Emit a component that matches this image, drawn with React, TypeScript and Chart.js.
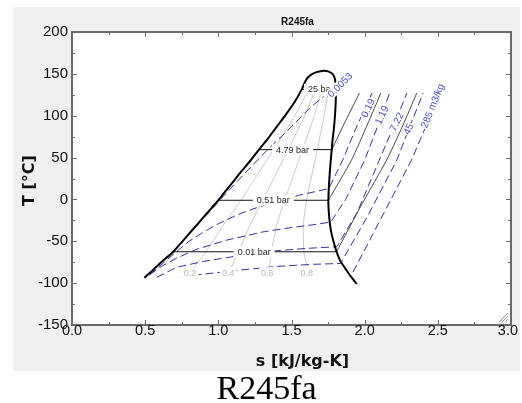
import React, { useEffect, useRef } from "react";
import { Chart, registerables } from "chart.js";

Chart.register(...registerables);

type P = [number, number];

// ---- axes ----
const sTicks = [0, 0.5, 1.0, 1.5, 2.0, 2.5, 3.0];
const sMinorTicks = [0.25, 0.75, 1.25, 1.75, 2.25, 2.75];
const tTicks = [-150, -100, -50, 0, 50, 100, 150, 200];
const tMinorTicks = [-125, -75, -25, 25, 75, 125, 175];

// ---- saturation dome (s [kJ/kg-K], T [°C]) ----
const satDome: P[] = [
  [0.494, -93.5], [0.55, -84.8], [0.61, -75], [0.692, -62.5], [0.755, -50], [0.805, -40],
  [0.855, -30], [0.905, -20], [0.955, -10], [1.005, 0], [1.055, 11], [1.105, 22], [1.16, 34],
  [1.22, 46.5], [1.278, 59.5], [1.34, 73], [1.40, 87], [1.46, 101], [1.52, 116], [1.57, 131.5],
  [1.60, 143], [1.63, 148.5], [1.67, 152], [1.71, 153.5], [1.75, 153], [1.78, 150], [1.796, 144.5],
  [1.803, 135], [1.803, 122], [1.799, 105], [1.79, 85], [1.78, 70], [1.775, 59.5], [1.765, 40],
  [1.757, 20], [1.752, 0], [1.753, -10], [1.757, -20], [1.763, -30], [1.775, -42], [1.79, -52],
  [1.808, -62.5], [1.835, -74], [1.866, -82], [1.905, -92], [1.946, -101],
];

// ---- isobars ----
const isobar25Wet: P[] = [[1.57, 131.5], [1.803, 131.5]];
const isobar479Wet: P[] = [[1.278, 59.5], [1.775, 59.5]];
const isobar051Wet: P[] = [[1.003, -1], [1.752, -1]];
const isobar001Wet: P[] = [[0.692, -62.5], [1.808, -62.5]];
const isobar479Sup: P[] = [[1.775, 59.5], [1.87, 94], [1.964, 127]];
const isobar051Sup: P[] = [[1.752, -1], [1.91, 47], [2.02, 90], [2.11, 127]];
const isobar001Sup: P[] = [[1.808, -62.5], [1.98, -6], [2.15, 47], [2.26, 88], [2.356, 127]];

// ---- quality lines ----
const quality02: P[] = [[0.80, -88], [0.915, -62.5], [1.037, -30], [1.154, -1], [1.269, 30], [1.377, 59.5], [1.523, 100], [1.616, 131.5]];
const quality04: P[] = [[1.07, -88], [1.138, -62.5], [1.218, -30], [1.304, -1], [1.393, 30], [1.477, 59.5], [1.59, 100], [1.662, 131.5]];
const quality06: P[] = [[1.345, -88], [1.362, -62.5], [1.40, -30], [1.453, -1], [1.516, 30], [1.576, 59.5], [1.656, 100], [1.708, 131.5]];
const quality08: P[] = [[1.617, -88], [1.585, -62.5], [1.581, -30], [1.603, -1], [1.64, 30], [1.676, 59.5], [1.723, 100], [1.754, 131.5]];

// ---- isochores (m3/kg) ----
const vol0053: P[] = [[0.50, -92], [0.70, -61], [0.86, -30], [1.015, 0], [1.174, 30], [1.337, 59.5], [1.46, 80], [1.545, 95], [1.63, 110], [1.72, 123]];
const vol019: P[] = [[0.53, -90], [0.73, -60], [0.80, -50], [0.89, -40], [0.99, -30], [1.11, -20], [1.18, -15], [1.26, -10], [1.45, 0], [1.55, 5], [1.68, 10], [1.755, 13], [1.85, 47], [1.94, 85], [2.05, 127]];
const vol119: P[] = [[0.531, -90], [0.611, -80], [0.716, -70], [0.86, -59], [1.06, -48.5], [1.30, -39], [1.48, -34], [1.68, -29.5], [1.768, -27], [1.87, 0], [2.00, 47], [2.09, 88], [2.17, 127]];
const vol722: P[] = [[0.58, -93], [0.716, -81], [0.90, -74], [1.126, -67.6], [1.30, -63], [1.45, -60.5], [1.62, -58.3], [1.81, -56.5], [1.95, -15], [2.10, 47], [2.20, 88], [2.288, 127]];
const vol45: P[] = [[0.75, -93], [0.886, -89.5], [1.148, -84.4], [1.40, -80], [1.649, -77.5], [1.835, -76.5], [2.02, -20], [2.22, 47], [2.31, 88], [2.40, 127]];
const vol285: P[] = [[1.92, -87], [2.09, -30], [2.32, 47], [2.42, 88], [2.516, 127]];

// ---- labels ----
const pressureLabels = ["25 bar", "4.79 bar", "0.51 bar", "0.01 bar"];
const pressureLabelAt: P[] = [[1.70, 131.5], [1.507, 59.5], [1.376, -1], [1.245, -62.5]];
const qualityLabels = ["0.2", "0.4", "0.6", "0.8"];
const qualityLabelAt: P[] = [[0.807, -87.5], [1.068, -87.5], [1.335, -87.5], [1.604, -87.5]];
const volumeLabels = ["0.0053", "0.19", "1.19", "7.22", "45", "285 m3/kg"];
const volumeLabelAt: P[] = [[1.832, 136.7], [2.023, 109], [2.117, 100.8], [2.219, 92.8], [2.299, 84.1], [2.464, 111.8]];
const volumeLabelAngle = [-45, -64, -64, -64, -64, -68];

const SANS = "'Liberation Sans', Arial, Helvetica, sans-serif";
const TITLE = "'DejaVu Sans', Verdana, sans-serif";

const decor = {
  id: "decor",
  beforeDraw(chart: any) {
    const { ctx, chartArea: a, width, height } = chart;
    ctx.save();
    ctx.fillStyle = "#f0f0f0";
    ctx.fillRect(0, 0, width, height);
    ctx.fillStyle = "#ffffff";
    ctx.fillRect(a.left, a.top, a.right - a.left, a.bottom - a.top);
    ctx.restore();
  },
  afterDatasetsDraw(chart: any) {
    const { ctx, scales, chartArea: a } = chart;
    const x = scales.x, y = scales.y;
    ctx.save();
    ctx.beginPath();
    ctx.rect(a.left, a.top, a.right - a.left, a.bottom - a.top);
    ctx.clip();
    const put = (text: string, at: P, angle: number, size: number, color: string, padX: number, padY: number) => {
      const px = x.getPixelForValue(at[0]);
      const py = y.getPixelForValue(at[1]);
      ctx.save();
      ctx.translate(px, py);
      ctx.rotate((angle * Math.PI) / 180);
      ctx.font = `${size}px ${SANS}`;
      const w = ctx.measureText(text).width;
      ctx.fillStyle = "#ffffff";
      ctx.fillRect(-w / 2 - padX, -size / 2 - padY, w + 2 * padX, size + 2 * padY);
      ctx.fillStyle = color;
      ctx.textAlign = "center";
      ctx.textBaseline = "middle";
      ctx.fillText(text, 0, 0.5);
      ctx.restore();
    };
    qualityLabels.forEach((t, i) => put(t, qualityLabelAt[i], 0, 9, "#b8b8b8", 2, 1));
    pressureLabels.forEach((t, i) => put(t, pressureLabelAt[i], 0, 9, "#222222", 4, 1));
    volumeLabels.forEach((t, i) => put(t, volumeLabelAt[i], volumeLabelAngle[i], 10, "#4a4ac4", 1, 0));
    ctx.restore();
  },
  afterDraw(chart: any) {
    const { ctx, scales, chartArea: a, width } = chart;
    const x = scales.x, y = scales.y;
    ctx.save();
    // ticks (inward, all four sides)
    ctx.strokeStyle = "#6a6a6a";
    ctx.lineWidth = 1;
    ctx.beginPath();
    const xt = (v: number, len: number) => {
      const p = Math.round(x.getPixelForValue(v)) + 0.5;
      ctx.moveTo(p, a.bottom); ctx.lineTo(p, a.bottom - len);
      ctx.moveTo(p, a.top); ctx.lineTo(p, a.top + len);
    };
    const yt = (v: number, len: number) => {
      const p = Math.round(y.getPixelForValue(v)) + 0.5;
      ctx.moveTo(a.left, p); ctx.lineTo(a.left + len, p);
      ctx.moveTo(a.right, p); ctx.lineTo(a.right - len, p);
    };
    sTicks.forEach((v) => xt(v, 5));
    sMinorTicks.forEach((v) => xt(v, 3));
    tTicks.forEach((v) => yt(v, 5));
    tMinorTicks.forEach((v) => yt(v, 3));
    ctx.stroke();
    // border
    ctx.strokeStyle = "#6a6a6a";
    ctx.lineWidth = 2;
    ctx.strokeRect(a.left, a.top, a.right - a.left, a.bottom - a.top);
    // resize grip
    ctx.strokeStyle = "#9a9a9a";
    ctx.lineWidth = 1;
    ctx.beginPath();
    [3, 6, 9].forEach((k) => {
      ctx.moveTo(a.right - 3 - k, a.bottom - 3);
      ctx.lineTo(a.right - 3, a.bottom - 3 - k);
    });
    ctx.stroke();
    // x tick labels (kept inside the panel)
    ctx.fillStyle = "#111111";
    ctx.font = `14.5px ${SANS}`;
    ctx.textAlign = "center";
    ctx.textBaseline = "middle";
    sTicks.forEach((v) => {
      const label = v.toFixed(1);
      const w = ctx.measureText(label).width;
      let px = x.getPixelForValue(v);
      if (px + w / 2 > width - 2) px = width - 2 - w / 2;
      ctx.fillText(label, px, a.bottom + 6);
    });
    // titles
    const cx = (a.left + a.right) / 2;
    ctx.font = `bold 10px ${SANS}`;
    ctx.fillText("R245fa", cx + 6, a.top - 10);
    ctx.font = `bold 16px ${TITLE}`;
    ctx.fillText("s [kJ/kg-K]", cx + 11, a.bottom + 37);
    ctx.save();
    ctx.translate(17, (a.top + a.bottom) / 2 + 2);
    ctx.rotate(-Math.PI / 2);
    ctx.fillText("T [°C]", 0, 0);
    ctx.restore();
    ctx.restore();
  },
};

export default function App() {
  const ref = useRef<HTMLCanvasElement>(null);
  useEffect(() => {
    const prevMargin = document.body.style.margin;
    document.body.style.margin = "0";
    const canvas = ref.current;
    if (!canvas) return;
    const line = (data: P[], color: string, width: number, dash: number[], order: number, tension = 0) => ({
      data: data.map(([sx, ty]) => ({ x: sx, y: ty })),
      showLine: true,
      borderColor: color,
      backgroundColor: color,
      borderWidth: width,
      borderDash: dash,
      pointRadius: 0,
      pointHoverRadius: 0,
      fill: false,
      tension,
      order,
    });
    const blue = "#34349c";
    const dash = [8, 4];
    const tickFont = { family: SANS, size: 15 };
    const chart = new Chart(canvas, {
      type: "scatter",
      data: {
        datasets: [
          line(satDome, "#000000", 2, [], 0, 0.2),
          line(isobar25Wet, "#111111", 1, [], 1),
          line(isobar479Wet, "#111111", 1, [], 1),
          line(isobar051Wet, "#111111", 1, [], 1),
          line(isobar001Wet, "#111111", 1, [], 1),
          line(isobar479Sup, "#4a4a4a", 1, [], 1, 0.2),
          line(isobar051Sup, "#4a4a4a", 1, [], 1, 0.2),
          line(isobar001Sup, "#4a4a4a", 1, [], 1, 0.2),
          line(vol0053, blue, 1, dash, 2),
          line(vol019, blue, 1, dash, 2),
          line(vol119, blue, 1, dash, 2),
          line(vol722, blue, 1, dash, 2),
          line(vol45, blue, 1, dash, 2),
          line(vol285, blue, 1, dash, 2),
          line(quality02, "#cacaca", 1, [], 3, 0.2),
          line(quality04, "#cacaca", 1, [], 3, 0.2),
          line(quality06, "#cacaca", 1, [], 3, 0.2),
          line(quality08, "#cacaca", 1, [], 3, 0.2),
        ] as any,
      },
      options: {
        animation: false,
        responsive: false,
        events: [],
        layout: { padding: { top: 25, right: 9, left: 0, bottom: 0 } },
        plugins: {
          legend: { display: false },
          tooltip: { enabled: false },
          title: { display: false },
        },
        scales: {
          x: {
            type: "linear",
            min: 0,
            max: 3,
            afterBuildTicks: (s: any) => {
              s.ticks = sTicks.map((v) => ({ value: v }));
            },
            ticks: { display: false },
            grid: { display: false, drawTicks: false },
            border: { display: false },
            afterFit: (s: any) => {
              s.height = 46;
              s.paddingLeft = 0;
              s.paddingRight = 0;
            },
          },
          y: {
            type: "linear",
            min: -150,
            max: 200,
            afterBuildTicks: (s: any) => {
              s.ticks = tTicks.map((v) => ({ value: v }));
            },
            ticks: {
              font: tickFont,
              color: "#111111",
              padding: 4,
              autoSkip: false,
            },
            grid: { display: false, drawTicks: false },
            border: { display: false },
            afterFit: (s: any) => {
              s.width = 59;
              s.paddingTop = 0;
              s.paddingBottom = 0;
            },
          },
        },
      } as any,
      plugins: [decor as any],
    });
    return () => {
      chart.destroy();
      document.body.style.margin = prevMargin;
    };
  }, []);

  return (
    <div style={{ paddingTop: 7, paddingLeft: 13, width: 509, height: 396 }}>
      <div style={{ width: 507, height: 364 }}>
        <canvas ref={ref} width={507} height={364} style={{ display: "block", width: 507, height: 364 }} />
      </div>
      <div
        style={{
          width: 507,
          height: 32,
          textAlign: "center",
          fontFamily: "'Liberation Serif', 'Times New Roman', serif",
          fontSize: 34,
          lineHeight: "34px",
          color: "#000",
        }}
      >
        R245fa
      </div>
    </div>
  );
}
